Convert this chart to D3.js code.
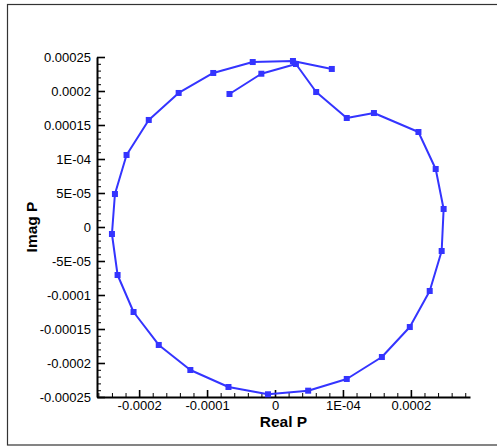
<!DOCTYPE html>
<html>
<head>
<meta charset="utf-8">
<script src="https://cdn.jsdelivr.net/npm/d3@7"></script>
<style>
  html, body { margin: 0; padding: 0; background: #fff; }
  svg { display: block; }
  text { font-family: "Liberation Sans", Arial, sans-serif; }
</style>
</head>
<body>
<svg id="chart" width="497" height="447"></svg>
<script>
// Complex pressure trace: real and imaginary parts, in drawing order
const realP = [
  -0.0000670, -0.0000201, 0.0000308, 0.0000606, 0.0001056, 0.0001456,
   0.0002111,  0.0002365, 0.0002482, 0.0002453, 0.0002277, 0.0001984,
   0.0001573,  0.0001056, 0.0000488, -0.0000103, -0.0000685, -0.0001246,
  -0.0001711, -0.0002082, -0.0002317, -0.0002400, -0.0002356, -0.0002185,
  -0.0001858, -0.0001418, -0.0000909, -0.0000328, 0.0000264, 0.0000836
];
const imagP = [
   0.0001956,  0.0002254, 0.0002397, 0.0001985, 0.0001603, 0.0001676,
   0.0001397,  0.0000853, 0.0000265, -0.0000353, -0.0000941, -0.0001471,
  -0.0001912, -0.0002235, -0.0002407, -0.0002460, -0.0002353, -0.0002103,
  -0.0001735, -0.0001250, -0.0000706, -0.0000103, 0.0000485, 0.0001059,
   0.0001574,  0.0001971, 0.0002265, 0.0002426, 0.0002441, 0.0002324
];

const xTickValues = [-0.0002, -0.0001, 0, 0.0001, 0.0002];
const xTickLabels = ["-0.0002", "-0.0001", "0", "1E-04", "0.0002"];
const yTickValues = [-0.00025, -0.0002, -0.00015, -0.0001, -0.00005, 0,
                     0.00005, 0.0001, 0.00015, 0.0002, 0.00025];
const yTickLabels = ["-0.00025", "-0.0002", "-0.00015", "-0.0001", "-5E-05", "0",
                     "5E-05", "1E-04", "0.00015", "0.0002", "0.00025"];

const xTitle = "Real P";
const yTitle = "Imag P";

const svg = d3.select("#chart");
const lineColor = "#3434ff";

// outer frame
svg.append("rect")
  .attr("x", 7.5).attr("y", 4.5)
  .attr("width", 497).attr("height", 440.5)
  .attr("fill", "none").attr("stroke", "#333").attr("stroke-width", 1.2);

const x = d3.scaleLinear().domain([-0.000262, 0.000287]).range([97, 470]);
const y = d3.scaleLinear().domain([-0.00025, 0.00025]).range([397, 57]);

const round = v => Math.round(v * 1e7) / 1e7;
const xMinor = d3.range(-13, 15).map(i => round(i * 0.00002))
  .filter(v => !xTickValues.some(t => Math.abs(t - v) < 1e-9));
const yMinor = d3.range(-25, 26).map(i => round(i * 0.00001))
  .filter(v => !yTickValues.some(t => Math.abs(t - v) < 1e-9));

// minor ticks
svg.append("g")
  .attr("transform", "translate(0,397)")
  .call(d3.axisBottom(x).tickValues(xMinor).tickSize(-4).tickFormat(""))
  .call(g => g.select(".domain").remove())
  .call(g => g.selectAll("line").attr("stroke", "#000").attr("stroke-width", 1));
svg.append("g")
  .attr("transform", "translate(97,0)")
  .call(d3.axisLeft(y).tickValues(yMinor).tickSize(-4).tickFormat(""))
  .call(g => g.select(".domain").remove())
  .call(g => g.selectAll("line").attr("stroke", "#000").attr("stroke-width", 1));

// major ticks and labels
const xAxis = svg.append("g")
  .attr("transform", "translate(0,397)")
  .call(d3.axisBottom(x).tickValues(xTickValues)
    .tickFormat((d, i) => xTickLabels[i])
    .tickSizeInner(-7).tickSizeOuter(0).tickPadding(4));
const yAxis = svg.append("g")
  .attr("transform", "translate(97,0)")
  .call(d3.axisLeft(y).tickValues(yTickValues)
    .tickFormat((d, i) => yTickLabels[i])
    .tickSizeInner(-8).tickSizeOuter(0).tickPadding(6));

[xAxis, yAxis].forEach(g => {
  g.select(".domain").attr("stroke", "#000").attr("stroke-width", 2);
  g.selectAll(".tick line").attr("stroke", "#000").attr("stroke-width", 1.6);
  g.selectAll(".tick text")
    .attr("fill", "#000")
    .style("font-family", "'Liberation Sans', Arial, sans-serif")
    .style("font-size", "13px");
});

// axis titles
svg.append("text")
  .attr("x", 283.5).attr("y", 427)
  .attr("text-anchor", "middle")
  .style("font-size", "15.5px").style("font-weight", "bold")
  .text(xTitle);
svg.append("text")
  .attr("transform", "translate(37,227) rotate(-90)")
  .attr("text-anchor", "middle")
  .style("font-size", "15.5px").style("font-weight", "bold")
  .text(yTitle);

// trace
const pts = realP.map((r, i) => [r, imagP[i]]);
svg.append("path")
  .datum(pts)
  .attr("fill", "none")
  .attr("stroke", lineColor)
  .attr("stroke-width", 2)
  .attr("stroke-linejoin", "round")
  .attr("d", d3.line().x(d => x(d[0])).y(d => y(d[1])));

const ms = 6;
svg.append("g").selectAll("rect")
  .data(pts)
  .join("rect")
  .attr("x", d => x(d[0]) - ms / 2)
  .attr("y", d => y(d[1]) - ms / 2)
  .attr("width", ms).attr("height", ms)
  .attr("fill", lineColor);
</script>
</body>
</html>
